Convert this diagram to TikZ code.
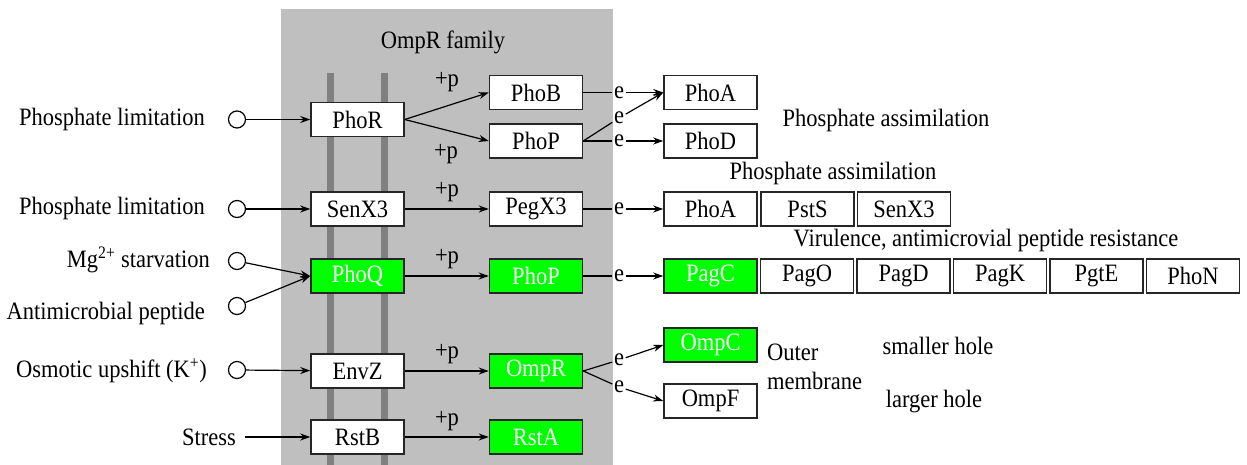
\documentclass[tikz,border=0pt]{standalone}
\usepackage{fontspec}
\setmainfont[FakeStretch=0.9]{Liberation Serif}
\usetikzlibrary{arrows.meta}
\definecolor{bg}{RGB}{191,191,191}
\definecolor{barc}{RGB}{128,128,128}
\definecolor{grn}{RGB}{0,255,0}
\begin{document}
\begin{tikzpicture}[x=1pt,y=-1pt, font=\fontsize{25}{29}\selectfont,
 box/.style={draw=black!85, line width=1.5pt, fill=white, minimum width=93pt, minimum height=34pt, inner sep=0pt},
 gbox/.style={box, fill=grn, text=white},
 lab/.style={inner sep=0pt},
 elab/.style={inner sep=1.5pt},
 arr/.style={-{Stealth[length=10pt,width=7pt]}, line width=1.2pt},
 ln/.style={line width=1.2pt},
 src/.style={circle, draw, line width=1.2pt, minimum size=17pt, inner sep=0pt, fill=white}]
\useasboundingbox (0,0) rectangle (1247,465);
\fill[bg] (281,9) rectangle (613,465);
\fill[barc] (327,73) rectangle (334,465);
\fill[barc] (381,73) rectangle (388,465);
\node[lab] (fam) at (443,42) {OmpR family};
% row 1
\node[box] (phor) at (357.5,119.5) {PhoR};
\node[box] (phob) at (536,92.5) {PhoB};
\node[box] (phop) at (536,141) {PhoP};
\node[box] (phoa) at (710.5,92.5) {PhoA};
\node[box] (phod) at (710.5,141) {PhoD};
\node[lab, anchor=east] (t1) at (205,119.5) {Phosphate limitation};
\node[src] (c1) at (237,119.5) {};
\node[lab] (p1a) at (447,82) {+p};
\node[lab] (p1b) at (446,154) {+p};
\node[elab] (e1) at (619,92.5) {e};
\node[elab] (e2) at (619,118) {e};
\node[elab] (e3) at (619,141) {e};
\node[lab] (pa1) at (886,120) {Phosphate assimilation};
\draw[arr] (c1) -- (phor);
\draw[arr] (phor.east) -- (phob.west);
\draw[arr] (phor.east) -- (phop.west);
\draw[ln] (phob) -- (e1);
\draw[arr] (e1) -- (phoa);
\draw[ln] (phop.east) -- (e2);
\draw[arr] (e2) -- (phoa.west);
\draw[ln] (phop) -- (e3);
\draw[arr] (e3) -- (phod);
% row 2
\node[box] (senx) at (357.5,209) {SenX3};
\node[box] (pegx) at (536,209) {PegX3};
\node[box] (phoa2) at (710.5,209) {PhoA};
\node[box] (psts) at (807.5,209) {PstS};
\node[box] (senx2) at (904,209) {SenX3};
\node[lab, anchor=east] (t2) at (205,208) {Phosphate limitation};
\node[src] (c2) at (237,209) {};
\node[lab] (p2) at (447,192) {+p};
\node[elab] (e4) at (619,209) {e};
\node[lab] (pa2) at (833,173) {Phosphate assimilation};
\draw[arr] (c2) -- (senx);
\draw[arr] (senx) -- (pegx);
\draw[ln] (pegx) -- (e4);
\draw[arr] (e4) -- (phoa2);
% row 3
\node[gbox] (phoq) at (357.5,276) {PhoQ};
\node[gbox] (phop2) at (536,276) {PhoP};
\node[gbox] (pagc) at (710.5,276) {PagC};
\node[box] (pago) at (807,276) {PagO};
\node[box] (pagd) at (903.5,276) {PagD};
\node[box] (pagk) at (1000,276) {PagK};
\node[box] (pgte) at (1096.5,276) {PgtE};
\node[box] (phon) at (1193,276) {PhoN};
\node[lab, anchor=east] (t3) at (210,260) {Mg\textsuperscript{2+} starvation};
\node[src] (c3) at (237,261) {};
\node[lab, anchor=east] (t4) at (205,313) {Antimicrobial peptide};
\node[src] (c4) at (237,306) {};
\node[lab] (p3) at (447,259) {+p};
\node[elab] (e5) at (619,276) {e};
\node[lab] (vir) at (986,240) {Virulence, antimicrovial peptide resistance};
\draw[arr] (c3) -- (phoq.west);
\draw[arr] (c4) -- (phoq.west);
\draw[arr] (phoq) -- (phop2);
\draw[ln] (phop2) -- (e5);
\draw[arr] (e5) -- (pagc);
% row 4
\node[box] (envz) at (357.5,371) {EnvZ};
\node[gbox] (ompr) at (536,371) {OmpR};
\node[gbox] (ompc) at (710.5,345) {OmpC};
\node[box] (ompf) at (710.5,401) {OmpF};
\node[lab, anchor=east] (t5) at (207,371) {Osmotic upshift (K\textsuperscript{+})};
\node[src] (c5) at (237,370) {};
\node[lab] (p4) at (447,354) {+p};
\node[elab] (e6) at (619,360) {e};
\node[elab] (e7) at (619,387) {e};
\node[lab, anchor=west, align=left] (outer) at (767,367) {Outer\\membrane};
\node[lab] (small) at (938,346) {smaller hole};
\node[lab] (large) at (934,402) {larger hole};
\draw[arr] (c5) -- (envz);
\draw[arr] (envz) -- (ompr);
\draw[ln] (ompr.east) -- (e6);
\draw[arr] (e6) -- (ompc.west);
\draw[ln] (ompr.east) -- (e7);
\draw[arr] (e7) -- (ompf.west);
% row 5
\node[box] (rstb) at (357.5,437) {RstB};
\node[gbox] (rsta) at (536,437) {RstA};
\node[lab, anchor=east] (t6) at (236,437) {Stress};
\node[lab] (p5) at (447,421) {+p};
\draw[arr, shorten <=9pt] (t6) -- (rstb);
\draw[arr] (rstb) -- (rsta);
\end{tikzpicture}
\end{document}
